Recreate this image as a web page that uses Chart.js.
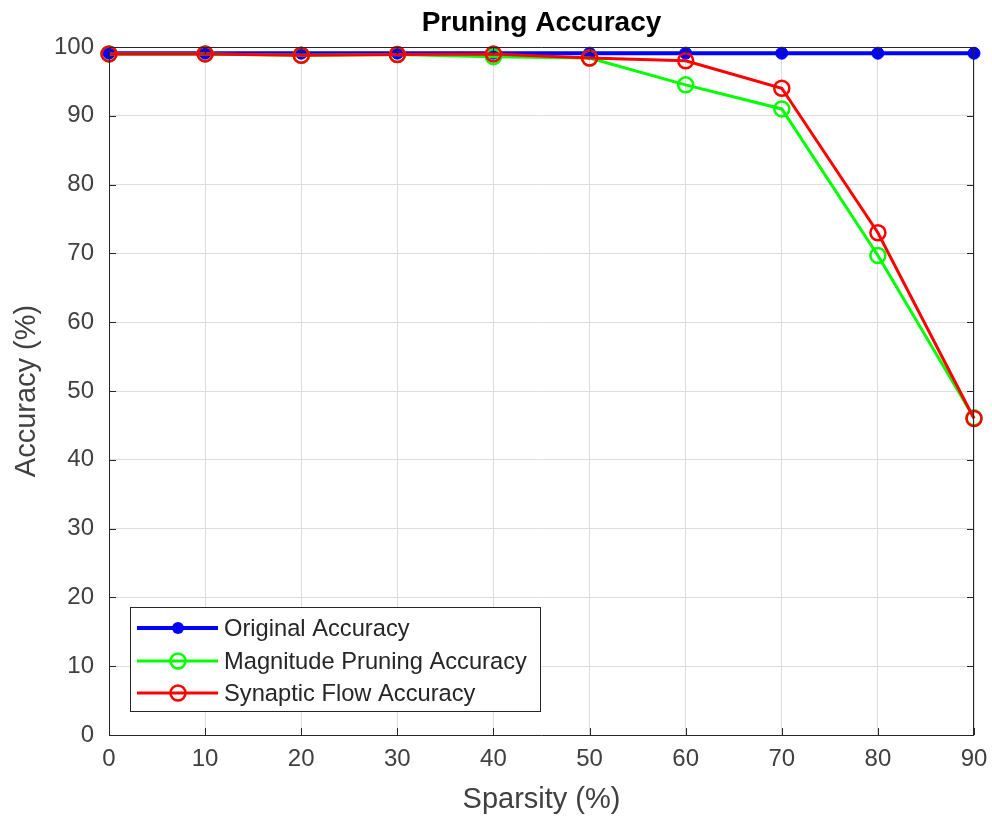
<!DOCTYPE html>
<html>
<head>
<meta charset="utf-8">
<script src="https://cdn.jsdelivr.net/npm/chart.js@4.4.1/dist/chart.umd.min.js"></script>
<style>
html,body{margin:0;padding:0;background:#fff;}
#wrap{width:992px;height:819px;position:relative;}
</style>
</head>
<body>
<div id="wrap"><canvas id="c" width="992" height="819"></canvas></div>
<script>
const sparsity = [0, 10, 20, 30, 40, 50, 60, 70, 80, 90];
const originalAccuracy = [99.1, 99.1, 99.1, 99.1, 99.1, 99.1, 99.1, 99.1, 99.1, 99.1];
const magnitudeAccuracy = [99.0, 99.0, 98.8, 98.9, 98.6, 98.4, 94.5, 91.0, 69.7, 46.1];
const synflowAccuracy = [99.0, 99.0, 98.8, 98.9, 99.0, 98.4, 98.0, 94.0, 73.0, 46.0];
const xTicks = [0, 10, 20, 30, 40, 50, 60, 70, 80, 90];
const yTicks = [0, 10, 20, 30, 40, 50, 60, 70, 80, 90, 100];
const chartTitle = 'Pruning Accuracy';
const xTitle = 'Sparsity (%)';
const yTitle = 'Accuracy (%)';

const FONT = '"Liberation Sans", Arial, Helvetica, sans-serif';
const AX = '#262626';
const TXT = '#404040';

const toPts = (arr) => sparsity.map((x, i) => ({x: x, y: arr[i]}));

const boxTicksPlugin = {
  id: 'boxTicks',
  afterDatasetsDraw(chart) {
    const {ctx, chartArea: a, scales: {x, y}} = chart;
    ctx.save();
    ctx.strokeStyle = AX;
    ctx.lineWidth = 1;
    ctx.beginPath();
    ctx.rect(a.left + 0.5, a.top + 0.5, a.right - a.left - 1, a.bottom - a.top);
    ctx.stroke();
    const L = 7;
    ctx.beginPath();
    xTicks.forEach(v => {
      const px = Math.round(x.getPixelForValue(v)) + 0.5;
      ctx.moveTo(px, a.bottom); ctx.lineTo(px, a.bottom - L);
      ctx.moveTo(px, a.top); ctx.lineTo(px, a.top + L);
    });
    yTicks.forEach(v => {
      const py = Math.round(y.getPixelForValue(v)) + 0.5;
      ctx.moveTo(a.left, py); ctx.lineTo(a.left + L, py);
      ctx.moveTo(a.right, py); ctx.lineTo(a.right - L, py);
    });
    ctx.stroke();
    ctx.restore();
  },
  afterDraw(chart) {
    const {ctx} = chart;
    ctx.save();
    const a = chart.chartArea;
    // title
    ctx.fillStyle = '#000';
    ctx.font = 'bold 28px ' + FONT;
    ctx.textAlign = 'center';
    ctx.textBaseline = 'middle';
    ctx.fillText(chartTitle, (a.left + a.right) / 2, 23);
    // legend
    const bx = 130.5, by = 607.5, bw = 410, bh = 104;
    ctx.fillStyle = '#fff';
    ctx.fillRect(bx, by, bw, bh);
    ctx.strokeStyle = AX;
    ctx.lineWidth = 1;
    ctx.strokeRect(bx, by, bw, bh);
    const rows = [628, 661, 693];
    chart.data.datasets.forEach((ds, i) => {
      const yy = rows[i];
      ctx.strokeStyle = ds.borderColor;
      ctx.lineWidth = ds.borderWidth;
      ctx.beginPath();
      ctx.moveTo(137, yy); ctx.lineTo(218, yy);
      ctx.stroke();
      ctx.beginPath();
      ctx.arc(178, yy, ds.pointRadius, 0, Math.PI * 2);
      if (ds.pointBackgroundColor !== 'rgba(0,0,0,0)') {
        ctx.fillStyle = ds.pointBackgroundColor;
        ctx.fill();
      } else {
        ctx.lineWidth = ds.pointBorderWidth;
        ctx.stroke();
      }
      ctx.fillStyle = '#262626';
      ctx.font = '23.7px ' + FONT;
      ctx.textAlign = 'left';
      ctx.textBaseline = 'middle';
      ctx.fillText(ds.label, 224, yy + 1);
    });
    ctx.restore();
  }
};

new Chart(document.getElementById('c'), {
  type: 'line',
  data: {
    datasets: [
      {
        label: 'Original Accuracy',
        data: toPts(originalAccuracy),
        borderColor: '#0000ff',
        backgroundColor: '#0000ff',
        borderWidth: 4,
        pointRadius: 6,
        pointBackgroundColor: '#0000ff',
        pointBorderColor: '#0000ff',
        pointBorderWidth: 1,
        order: 3,
        clip: false
      },
      {
        label: 'Magnitude Pruning Accuracy',
        data: toPts(magnitudeAccuracy),
        borderColor: '#00ff00',
        backgroundColor: '#00ff00',
        borderWidth: 3,
        pointRadius: 7.5,
        pointBackgroundColor: 'rgba(0,0,0,0)',
        pointBorderColor: '#00ff00',
        pointBorderWidth: 2.5,
        order: 2,
        clip: false
      },
      {
        label: 'Synaptic Flow Accuracy',
        data: toPts(synflowAccuracy),
        borderColor: '#ff0000',
        backgroundColor: '#ff0000',
        borderWidth: 3,
        pointRadius: 7.5,
        pointBackgroundColor: 'rgba(0,0,0,0)',
        pointBorderColor: '#ff0000',
        pointBorderWidth: 2.5,
        order: 1,
        clip: false
      }
    ]
  },
  options: {
    responsive: false,
    animation: false,
    devicePixelRatio: 1,
    layout: {padding: {left: 0, right: 18, top: 47, bottom: 0}},
    plugins: {legend: {display: false}, title: {display: false}, tooltip: {enabled: false}},
    elements: {line: {tension: 0}},
    scales: {
      x: {
        type: 'linear',
        min: 0, max: 90,
        afterFit(s) { s.height = 84; s.paddingLeft = 0; s.paddingRight = 0; },
        afterBuildTicks(s) { s.ticks = xTicks.map(v => ({value: v})); },
        grid: {color: '#dedede', lineWidth: 1, drawTicks: false},
        border: {display: false},
        ticks: {color: TXT, font: {family: FONT, size: 24}, padding: 10, maxRotation: 0, autoSkip: false},
        title: {display: true, text: xTitle, color: TXT, font: {family: FONT, size: 29}, padding: {top: 0, bottom: 2}}
      },
      y: {
        type: 'linear',
        min: 0, max: 100,
        afterFit(s) { s.width = 109; s.paddingTop = 0; s.paddingBottom = 0; },
        afterBuildTicks(s) { s.ticks = yTicks.map(v => ({value: v})); },
        grid: {color: '#dedede', lineWidth: 1, drawTicks: false},
        border: {display: false},
        ticks: {color: TXT, font: {family: FONT, size: 24}, padding: 15, autoSkip: false},
        title: {display: true, text: yTitle, color: TXT, font: {family: FONT, size: 29}, padding: {top: 10, bottom: 0}}
      }
    }
  },
  plugins: [boxTicksPlugin]
});
</script>
</body>
</html>
